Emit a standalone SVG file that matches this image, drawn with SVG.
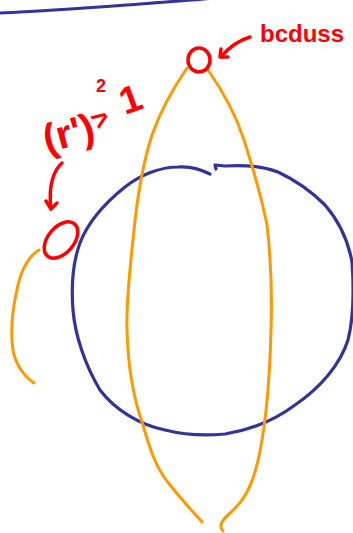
<svg xmlns="http://www.w3.org/2000/svg" width="353" height="533" viewBox="0 0 353 533">
<style>
.blue{fill:none;stroke:#333399;stroke-width:3.2;stroke-linecap:round;stroke-linejoin:round}
.orange{fill:none;stroke:#ff9900;stroke-width:3;stroke-linecap:round;stroke-linejoin:round}
.red{fill:none;stroke:#ff0000;stroke-width:3.5;stroke-linecap:round;stroke-linejoin:round}
.hand{fill:#ff0000;font-family:"Liberation Sans",Arial,sans-serif;font-weight:bold}
</style>
<rect width="353" height="533" fill="#ffffff"/>
<g id="top-line">
<path class="blue" d="M0,13 C50,11 100,7 140,4 C170,2 190,0 215,-2"/>
</g>
<g id="sphere">
<path class="blue" d="M210,174 C200,169 190,166 178,167 C160,167 140,175 125,187 C105,203 88,222 80,243 C73,262 71,285 73,310 C75,335 85,365 100,390 C115,410 140,425 165,430 C185,435 205,436 225,434 C250,430 275,420 295,405 C320,388 340,365 348,340 C353,320 354,290 352,262 C348,240 338,220 325,205 C310,190 295,180 278,172 C262,166 240,165 225,166 L215,165 L216,169"/>
</g>
<g id="lens">
<path class="orange" d="M187,68 C172,90 160,112 152,135 C144,160 138,190 134,230 C130,270 126,300 127,330 C128,370 134,400 143,425 C150,450 157,470 170,485 C182,500 193,512 202,522"/>
<path class="orange" d="M208,70 C222,90 236,115 244,140 C252,165 262,200 267,225 C271,260 272,300 271,330 C270,370 267,410 262,440 C258,465 252,485 244,497 C236,510 226,515 222,522 C220,526 221,529 223,531"/>
</g>
<g id="side-arc">
<path class="orange" d="M39,250 C30,255 22,268 18,285 C12,310 10,330 13,350 C15,362 22,375 34,383"/>
</g>
<g id="top-node">
<ellipse class="red" cx="199" cy="60" rx="11" ry="12"/>
</g>
<g id="left-node">
<ellipse class="red" cx="61" cy="240" rx="21" ry="13" transform="rotate(-50 61 240)"/>
</g>
<g id="connectors">
<path class="red" d="M250,37 C240,40 230,46 221,57"/>
<path class="red" d="M221,49 L220,57 L228,57"/>
<path class="red" d="M62,163 C54,170 48,185 51,209"/>
<path class="red" d="M46,201 L51,209 L57,203"/>
</g>
<g id="labels">
<text class="hand" x="260" y="42" font-size="24">bcduss</text>
<text class="hand" x="47" y="153" font-size="40" transform="rotate(-15 47 153)">(r')</text>
<text class="hand" x="96" y="92" font-size="18">2</text>
<text class="hand" x="99" y="131" font-size="28" transform="rotate(-35 99 131)">&gt;</text>
<text class="hand" x="125" y="115" font-size="38" transform="rotate(-20 125 115)">1</text>
</g>
</svg>
